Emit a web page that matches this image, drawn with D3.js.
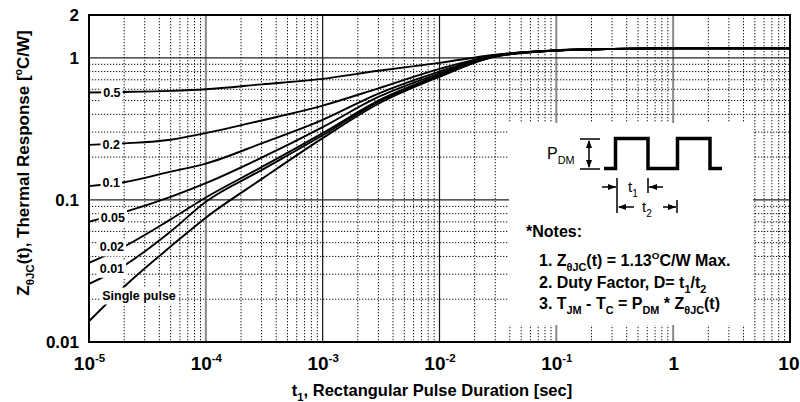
<!DOCTYPE html>
<html><head><meta charset="utf-8">
<script src="https://cdn.jsdelivr.net/npm/d3@7/dist/d3.min.js"></script>
<style>
body{margin:0;background:#fff}
svg{display:block;font-family:"Liberation Sans",Arial,sans-serif}
</style></head>
<body><svg id="c" width="800" height="402"></svg>
<script>
// ---- data ----
const times = [1e-5, 2e-5, 5e-5, 1e-4, 3e-4, 1e-3, 3e-3, 1e-2, 3e-2, 1e-1, 3e-1, 1, 10];
const d05    = [0.570, 0.575, 0.585, 0.600, 0.650, 0.711, 0.810, 0.920, 1.050, 1.130, 1.155, 1.165, 1.165];
const d02    = [0.244, 0.250, 0.265, 0.295, 0.362, 0.461, 0.610, 0.835, 1.040, 1.127, 1.155, 1.165, 1.165];
const d01    = [0.125, 0.133, 0.158, 0.180, 0.250, 0.366, 0.560, 0.800, 1.035, 1.125, 1.155, 1.165, 1.165];
const d005   = [0.0703, 0.082, 0.105, 0.131, 0.198, 0.325, 0.530, 0.775, 1.030, 1.125, 1.155, 1.165, 1.165];
const d002   = [0.036, 0.047, 0.073, 0.104, 0.170, 0.295, 0.500, 0.755, 1.025, 1.125, 1.155, 1.165, 1.165];
const d001   = [0.0256, 0.0345, 0.060, 0.097, 0.162, 0.285, 0.490, 0.745, 1.020, 1.125, 1.155, 1.165, 1.165];
const single = [0.0140, 0.0245, 0.047, 0.075, 0.140, 0.272, 0.475, 0.735, 1.020, 1.125, 1.155, 1.165, 1.165];
const seriesNames = ["0.5", "0.2", "0.1", "0.05", "0.02", "0.01", "Single pulse"];
const seriesValues = [d05, d02, d01, d005, d002, d001, single];
// label anchor (t, Z)
const labelT = [1.57e-5, 1.55e-5, 1.55e-5, 1.6e-5, 1.57e-5, 1.57e-5, 2.68e-5];
const labelZ = [0.567, 0.244, 0.132, 0.0755, 0.0467, 0.0330, 0.0214];
const yTicks = [0.01, 0.1, 1, 2];
const yTickLabels = ["0.01", "0.1", "1", "2"];
const xTicks = [1e-5, 1e-4, 1e-3, 1e-2, 1e-1, 1, 10];
const xTickBase = ["10", "10", "10", "10", "10", "1", "10"];
const xTickExp = ["-5", "-4", "-3", "-2", "-1", "", ""];

// ---- layout ----
const L = 89, R = 790, T = 15, B = 342;
const svg = d3.select("#c");
const x = d3.scaleLog().domain([1e-5, 10]).range([L, R]);
const y = d3.scaleLog().domain([0.01, 2]).range([B, T]);

// minor grid
const g = svg.append("g");
const minorX = [], minorY = [];
for (let e = -5; e < 1; e++) for (let m = 2; m <= 9; m++) minorX.push(m * Math.pow(10, e));
for (let e = -2; e < 0; e++) for (let m = 2; m <= 9; m++) minorY.push(m * Math.pow(10, e));
g.selectAll(".mx").data(minorX).join("line")
  .attr("x1", d => x(d)).attr("x2", d => x(d)).attr("y1", T).attr("y2", B)
  .attr("stroke", "#111").attr("stroke-width", 1).attr("stroke-dasharray", "1.3,1.7");
g.selectAll(".my").data(minorY).join("line")
  .attr("y1", d => y(d)).attr("y2", d => y(d)).attr("x1", L).attr("x2", R)
  .attr("stroke", "#111").attr("stroke-width", 1).attr("stroke-dasharray", "1.3,1.7");
// major grid
const majX = [{v:1e-4,c:"#888",w:2},{v:1e-3,c:"#111",w:1.2},{v:1e-2,c:"#111",w:1.2},{v:1e-1,c:"#888",w:2},{v:1,c:"#888",w:2}];
g.selectAll(".Mx").data(majX).join("line")
  .attr("x1", d => x(d.v)).attr("x2", d => x(d.v)).attr("y1", T).attr("y2", B)
  .attr("stroke", d => d.c).attr("stroke-width", d => d.w);
g.selectAll(".My").data([0.1, 1]).join("line")
  .attr("y1", d => y(d)).attr("y2", d => y(d)).attr("x1", L).attr("x2", R)
  .attr("stroke", "#222").attr("stroke-width", 1.2);

// notes box background (covers grid)
svg.append("rect").attr("x", 509).attr("y", 123).attr("width", 244).attr("height", 202).attr("fill", "#fff");

// curves
const line = d3.line().x(d => x(d[0])).y(d => y(d[1])).curve(d3.curveMonotoneX);
const cg = svg.append("g");
seriesValues.forEach(vals => {
  cg.append("path").attr("d", line(times.map((t, i) => [t, vals[i]])))
    .attr("fill", "none").attr("stroke", "#000").attr("stroke-width", 1.9);
});

// curve labels with white background
seriesNames.forEach((n, i) => {
  const t = svg.append("text").attr("x", x(labelT[i])).attr("y", y(labelZ[i]) + 4.5)
    .attr("text-anchor", "middle").attr("font-size", 12.5).attr("font-weight", "bold").text(n);
  const bb = t.node().getBBox();
  svg.insert("rect", () => t.node()).attr("x", bb.x - 2).attr("y", bb.y - 1)
    .attr("width", bb.width + 4).attr("height", bb.height + 3).attr("fill", "#fff");
});

// frame
svg.append("rect").attr("x", L).attr("y", T).attr("width", R - L).attr("height", B - T)
  .attr("fill", "none").attr("stroke", "#000").attr("stroke-width", 2);

// y axis
const ya = svg.append("g").attr("transform", `translate(${L},0)`)
  .call(d3.axisLeft(y).tickValues(yTicks).tickSize(0).tickPadding(10).tickFormat((d, i) => yTickLabels[i]));
ya.select(".domain").remove();
ya.selectAll("text").attr("font-size", 17).attr("font-weight", "bold").attr("font-family", "Liberation Sans, Arial, sans-serif").attr("fill", "#000");

// x axis
const xa = svg.append("g").attr("transform", `translate(0,${B})`)
  .call(d3.axisBottom(x).tickValues(xTicks).tickSize(0).tickFormat(""));
xa.select(".domain").remove();
xa.selectAll(".tick text").each(function(d, i) {
  const t = d3.select(this).attr("y", 28).attr("dy", 0).attr("font-size", 19).attr("font-weight", "bold")
    .attr("font-family", "Liberation Sans, Arial, sans-serif").attr("fill", "#000");
  if (i === xTicks.length - 1) t.attr("text-anchor", "end").attr("x", 799 - x(d));
  t.text(null);
  t.append("tspan").text(xTickBase[i]);
  if (xTickExp[i]) t.append("tspan").attr("font-size", 11.5).attr("dy", -8).text(xTickExp[i]);
});

// rich text helper (sub / sup segments)
function rich(sel, parts, fs) {
  let cur = 0;
  parts.forEach(p => {
    const [txt, mode] = Array.isArray(p) ? p : [p, ""];
    const target = mode === "sub" ? fs * 0.3 : mode === "sup" ? -fs * 0.42 : 0;
    const ts = sel.append("tspan").attr("dy", target - cur).text(txt);
    if (mode === "sub") ts.attr("font-size", fs * 0.68);
    if (mode === "sup") ts.attr("font-size", fs * 0.62);
    cur = target;
  });
}

// axis titles
const xt = svg.append("text").attr("x", 432).attr("y", 396).attr("text-anchor", "middle")
  .attr("font-size", 16.5).attr("font-weight", "bold");
rich(xt, ["t", ["1", "sub"], ", Rectangular Pulse Duration [sec]"], 16.5);
const yt = svg.append("text").attr("transform", "translate(29,163) rotate(-90)").attr("text-anchor", "middle")
  .attr("font-size", 17).attr("font-weight", "bold");
rich(yt, ["Z", ["θJC", "sub"], "(t), Thermal Response [", ["o", "sup"], "C/W]"], 17);

// pulse diagram
const pd = svg.append("g");
pd.append("path").attr("d", "M604,168.5 H615.5 V138.5 H648 V168.5 H677.5 V138.5 H710 V168.5 H722")
  .attr("fill", "none").attr("stroke", "#000").attr("stroke-width", 3.5);
pd.append("path").attr("d", "M580,139 H600 M580,169 H600 M589,141 V167").attr("stroke", "#000").attr("stroke-width", 1.5);
function arrowHead(px, py, dir, vert) {
  if (!vert) return `M${px},${py} L${px - dir * 8},${py - 3} L${px - dir * 8},${py + 3} Z`;
  return `M${px},${py} L${px - 3},${py - dir * 8} L${px + 3},${py - dir * 8} Z`;
}
pd.append("path").attr("d", arrowHead(589, 140, -1, true) + arrowHead(589, 168, 1, true)).attr("fill", "#000");
pd.append("path").attr("d", "M617,178 V213 M648,178 V193 M677,200 V213 M602,187 H616 M649,187 H663 M619,207 H634 M663,207 H676")
  .attr("stroke", "#000").attr("stroke-width", 1.5).attr("fill", "none");
pd.append("path").attr("d", arrowHead(616, 187, 1) + arrowHead(649, 187, -1) + arrowHead(618, 207, -1) + arrowHead(676, 207, 1)).attr("fill", "#000");
const pt = svg.append("text").attr("x", 547).attr("y", 159).attr("font-size", 16);
rich(pt, ["P", ["DM", "sub"]], 16);
const t1 = svg.append("text").attr("x", 628).attr("y", 192).attr("font-size", 15);
rich(t1, ["t", ["1", "sub"]], 15);
const t2 = svg.append("text").attr("x", 642).attr("y", 212).attr("font-size", 15);
rich(t2, ["t", ["2", "sub"]], 15);

// notes
const nfs = 16;
svg.append("text").attr("x", 526).attr("y", 237).attr("font-size", nfs).attr("font-weight", "bold").text("*Notes:");
const n1 = svg.append("text").attr("x", 539).attr("y", 266).attr("font-size", nfs).attr("font-weight", "bold");
rich(n1, ["1. Z", ["θJC", "sub"], "(t) = 1.13", ["O", "sup"], "C/W Max."], nfs);
const n2 = svg.append("text").attr("x", 539).attr("y", 288).attr("font-size", nfs).attr("font-weight", "bold");
rich(n2, ["2. Duty Factor, D= t", ["1", "sub"], "/t", ["2", "sub"]], nfs);
const n3 = svg.append("text").attr("x", 539).attr("y", 309).attr("font-size", nfs).attr("font-weight", "bold");
rich(n3, ["3. T", ["JM", "sub"], " - T", ["C", "sub"], " = P", ["DM", "sub"], " * Z", ["θJC", "sub"], "(t)"], nfs);
</script></body></html>
